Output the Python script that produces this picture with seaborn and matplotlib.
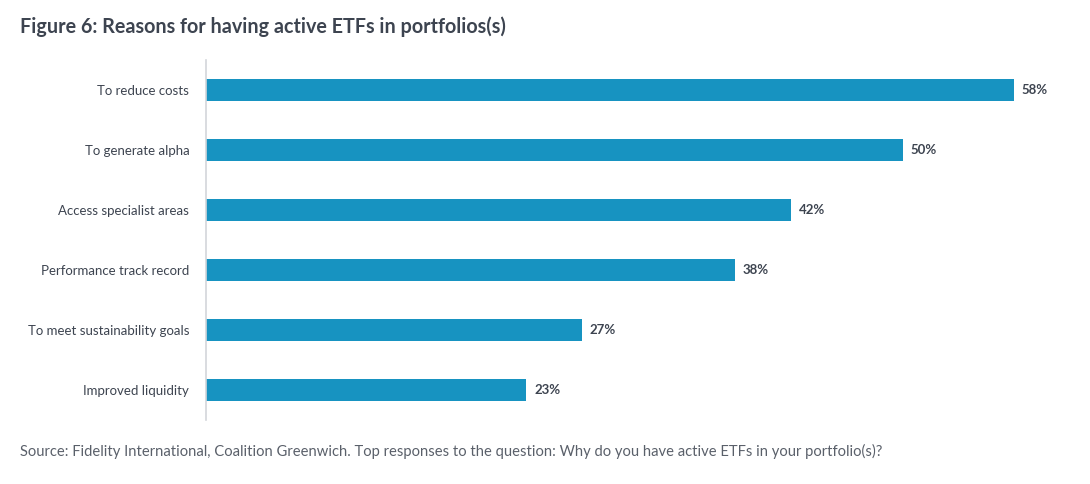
import matplotlib
matplotlib.use("Agg")
import matplotlib.pyplot as plt
import seaborn as sns
import pandas as pd

categories = ["To reduce costs", "To generate alpha", "Access specialist areas",
              "Performance track record", "To meet sustainability goals", "Improved liquidity"]
values = [58, 50, 42, 38, 27, 23]
title = "Figure 6: Reasons for having active ETFs in portfolios(s)"
source = ("Source: Fidelity International, Coalition Greenwich. Top responses to the question: "
          "Why do you have active ETFs in your portfolio(s)?")

sns.set_theme(style="white")
plt.rcParams["font.family"] = ["Lato", "DejaVu Sans"]

BAR = "#1793c1"
TXT = "#3d4450"
GREY = "#d3d6da"

df = pd.DataFrame({"reason": categories, "pct": values})

fig = plt.figure(figsize=(10.9, 4.84), dpi=100)
ax = fig.add_axes([206 / 1090, 1 - 420 / 484, 868 / 1090, 360 / 484])

sns.barplot(data=df, y="reason", x="pct", orient="h", color=BAR, width=0.36,
            saturation=1, ax=ax, edgecolor="none")

ax.set_xlim(0, 62.3)
ax.set_ylim(len(categories) - 0.5, -0.5)
ax.set_xlabel("")
ax.set_ylabel("")
ax.set_xticks([])
for s in ["top", "right", "bottom"]:
    ax.spines[s].set_visible(False)
ax.spines["left"].set_color(GREY)
ax.spines["left"].set_linewidth(1.2)

ax.set_yticks(range(len(categories)))
ax.set_yticklabels(categories, fontsize=9.5, color=TXT)
ax.tick_params(axis="y", which="major", length=0, pad=12)
ax.set_yticks([i + 0.5 for i in range(len(categories) - 1)], minor=True)
ax.tick_params(axis="y", which="minor", length=4, color=GREY, width=1.2, direction="out")

for i, v in enumerate(values):
    ax.annotate(f"{v}%", xy=(v, i), xytext=(5.5, 0), textcoords="offset points",
                va="center", ha="left", fontsize=9.5, fontweight="bold", color=TXT)

fig.text(20 / 1090, 1 - 27 / 484, title, fontsize=14.2, fontweight="bold", color=TXT,
         va="center", ha="left")
fig.text(20 / 1090, 1 - 451 / 484, source, fontsize=10.6, color="#5a606a",
         va="center", ha="left")

fig.savefig("out.png", dpi=100)
